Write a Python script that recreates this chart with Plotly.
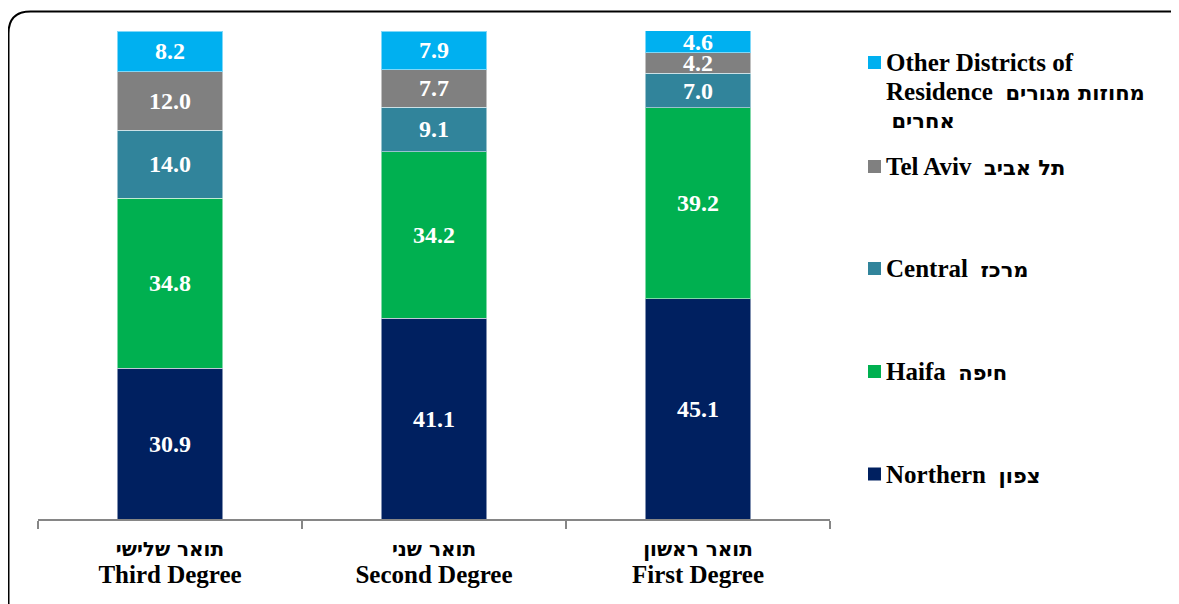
import plotly.graph_objects as go

categories = ["Third", "Second", "First"]
tick_he = ["תואר שלישי", "תואר שני", "תואר ראשון"]
tick_en = ["Third Degree", "Second Degree", "First Degree"]

northern = [30.9, 41.1, 45.1]
haifa = [34.8, 34.2, 39.2]
central = [14.0, 9.1, 7.0]
telaviv = [12.0, 7.7, 4.2]
other = [8.2, 7.9, 4.6]

series = [
    ("Northern", "צפון", northern, "#002060"),
    ("Haifa", "חיפה", haifa, "#00B050"),
    ("Central", "מרכז", central, "#31849B"),
    ("Tel Aviv", "תל אביב", telaviv, "#808080"),
    ("Other Districts of Residence", "מחוזות מגורים אחרים", other, "#00B0F0"),
]

W, H = 1179, 604
OFF = 8  # page body margin
L, R, T, B = 30, 357, 23, 93
PW, PH = W - L - R, H - T - B


def px(x):
    return (x - OFF - L) / PW


def py(y):
    return (H - B - (y - OFF)) / PH


SERIF = "Liberation Serif, Times New Roman, serif"
SANS = "DejaVu Sans, Liberation Sans, Arial, sans-serif"


def he(s, size=21):
    return f"<b><span style='font-family:{SANS};font-size:{size}px;font-weight:bold'>{s}</span></b>"


def en(s, size=25):
    return f"<span style='font-size:{size}px'>{s}</span>"


fig = go.Figure()
for name, hname, vals, color in series:
    fig.add_trace(go.Bar(
        x=categories, y=vals, name=name,
        marker=dict(color=color, line=dict(color="rgba(255,255,255,0.5)", width=1)),
        text=[f"{v:.1f}" for v in vals],
        textposition="inside", insidetextanchor="middle",
        constraintext="none",
        textfont=dict(family=SERIF, size=24, color="white", weight="bold"),
        showlegend=False,
    ))

ticktext = [f"{he(h, 20)}<br>{en(e)}" for h, e in zip(tick_he, tick_en)]

fig.update_layout(
    width=W, height=H,
    margin=dict(l=L, r=R, t=T, b=B),
    barmode="stack", bargap=0.6,
    plot_bgcolor="white", paper_bgcolor="white",
    font=dict(family=SERIF, color="black"),
    xaxis=dict(
        tickvals=categories, ticktext=ticktext,
        showline=True, linecolor="#868686", linewidth=1.5,
        ticks="outside", tickson="boundaries", ticklen=8,
        tickcolor="#868686", tickwidth=1.5,
        ticklabelstandoff=10,
        tickfont=dict(family=SERIF, size=21, color="black", weight="bold"),
        showgrid=False, zeroline=False,
    ),
    yaxis=dict(range=[0, 100], visible=False, showgrid=False),
)

# legend (drawn manually to match spacing)
legend_items = [
    (en("Other Districts of") + "<br>" + en("Residence\u00a0\u00a0") + he("מחוזות מגורים") + "<br>\u00a0" + he("אחרים"), "#00B0F0", 62.5, True),
    (en("Tel Aviv\u00a0\u00a0") + he("תל אביב"), "#808080", 166.5, False),
    (en("Central\u00a0\u00a0") + he("מרכז"), "#31849B", 268.5, False),
    (en("Haifa\u00a0\u00a0") + he("חיפה"), "#00B050", 371.5, False),
    (en("Northern\u00a0\u00a0") + he("צפון"), "#002060", 474, False),
]
for text, color, yc, multi in legend_items:
    fig.add_shape(type="rect", xref="paper", yref="paper",
                  x0=px(868), x1=px(881), y0=py(yc - 6.5), y1=py(yc + 6.5),
                  fillcolor=color, line=dict(width=0))
    fig.add_annotation(
        xref="paper", yref="paper", x=px(884), y=py(yc - 16 if multi else yc),
        xanchor="left", yanchor="top" if multi else "middle",
        text=text, showarrow=False, align="left",
        font=dict(family=SERIF, size=22, color="black", weight="bold"),
    )

# rounded frame
x0, y0, x1, y1, r = 8.5, 11.5, 1190, 625, 22
path = (f"M {px(x0 + r)} {py(y0)} L {px(x1 - r)} {py(y0)} "
        f"Q {px(x1)} {py(y0)} {px(x1)} {py(y0 + r)} "
        f"L {px(x1)} {py(y1 - r)} Q {px(x1)} {py(y1)} {px(x1 - r)} {py(y1)} "
        f"L {px(x0 + r)} {py(y1)} Q {px(x0)} {py(y1)} {px(x0)} {py(y1 - r)} "
        f"L {px(x0)} {py(y0 + r)} Q {px(x0)} {py(y0)} {px(x0 + r)} {py(y0)} Z")
fig.add_shape(type="path", xref="paper", yref="paper", path=path,
              line=dict(color="black", width=2), layer="above")

fig.write_html("out.html")
